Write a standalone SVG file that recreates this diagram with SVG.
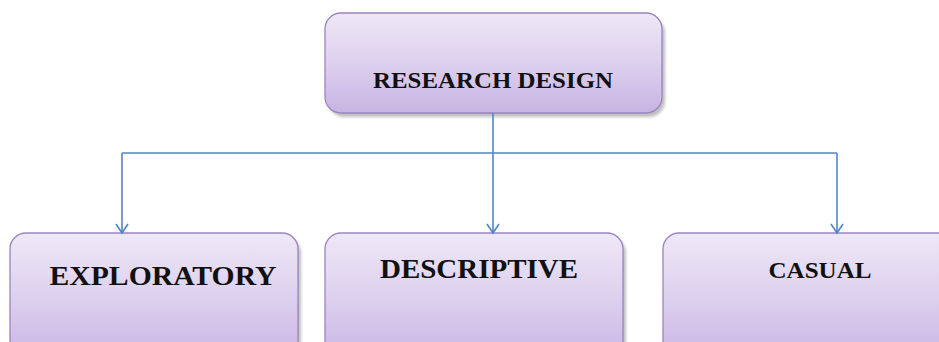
<svg xmlns="http://www.w3.org/2000/svg" width="939" height="342" viewBox="0 0 939 342">
<style>
.box{fill:url(#g);stroke:#9C84C0;stroke-width:1.3}
.shadow{fill:#8a8a8a;opacity:0.55;filter:url(#blur)}
.lbl{font-family:"Liberation Serif","Times New Roman",serif;font-weight:bold;fill:#111}
.conn{fill:none;stroke:#4F86C6;stroke-width:1.6}
</style>
<defs>
<linearGradient id="g" x1="0" y1="0" x2="0" y2="1">
<stop offset="0" stop-color="#EEE8F6"/>
<stop offset="0.5" stop-color="#DDD0EE"/>
<stop offset="1" stop-color="#C8B4E3"/>
</linearGradient>
<filter id="blur" x="-10%" y="-10%" width="120%" height="130%"><feGaussianBlur stdDeviation="1.5"/></filter>
<marker id="arr" markerWidth="14" markerHeight="14" refX="12" refY="7" orient="auto" markerUnits="userSpaceOnUse" viewBox="0 0 14 14">
<path d="M3,1 L12,7 L3,13" fill="none" stroke="#4F86C6" stroke-width="1.6"/>
</marker>
</defs>
<rect width="939" height="342" fill="#fff"/>
<g id="research-design">
<rect class="shadow" x="328" y="17" width="337" height="100" rx="16"/>
<rect class="box" x="325" y="13" width="337" height="100" rx="16"/>
<text class="lbl" x="493" y="88" font-size="24" text-anchor="middle" textLength="240" lengthAdjust="spacingAndGlyphs">RESEARCH DESIGN</text>
</g>
<g id="exploratory">
<rect class="shadow" x="13" y="237" width="288" height="130" rx="16"/>
<rect class="box" x="10" y="233" width="288" height="130" rx="16"/>
<text class="lbl" x="163" y="285" font-size="27" text-anchor="middle" textLength="227" lengthAdjust="spacingAndGlyphs">EXPLORATORY</text>
</g>
<g id="descriptive">
<rect class="shadow" x="328" y="237" width="298" height="130" rx="16"/>
<rect class="box" x="325" y="233" width="298" height="130" rx="16"/>
<text class="lbl" x="479" y="278" font-size="27" text-anchor="middle" textLength="198" lengthAdjust="spacingAndGlyphs">DESCRIPTIVE</text>
</g>
<g id="casual">
<rect class="shadow" x="666" y="237" width="298" height="130" rx="16"/>
<rect class="box" x="663" y="233" width="298" height="130" rx="16"/>
<text class="lbl" x="820" y="278" font-size="24" text-anchor="middle" textLength="103" lengthAdjust="spacingAndGlyphs">CASUAL</text>
</g>
<g id="connectors">
<path class="conn" d="M493,113 V153"/>
<path class="conn" d="M122,153 H837"/>
<path class="conn" d="M122,153 V233" marker-end="url(#arr)"/>
<path class="conn" d="M493,153 V233" marker-end="url(#arr)"/>
<path class="conn" d="M837,153 V233" marker-end="url(#arr)"/>
</g>
</svg>
